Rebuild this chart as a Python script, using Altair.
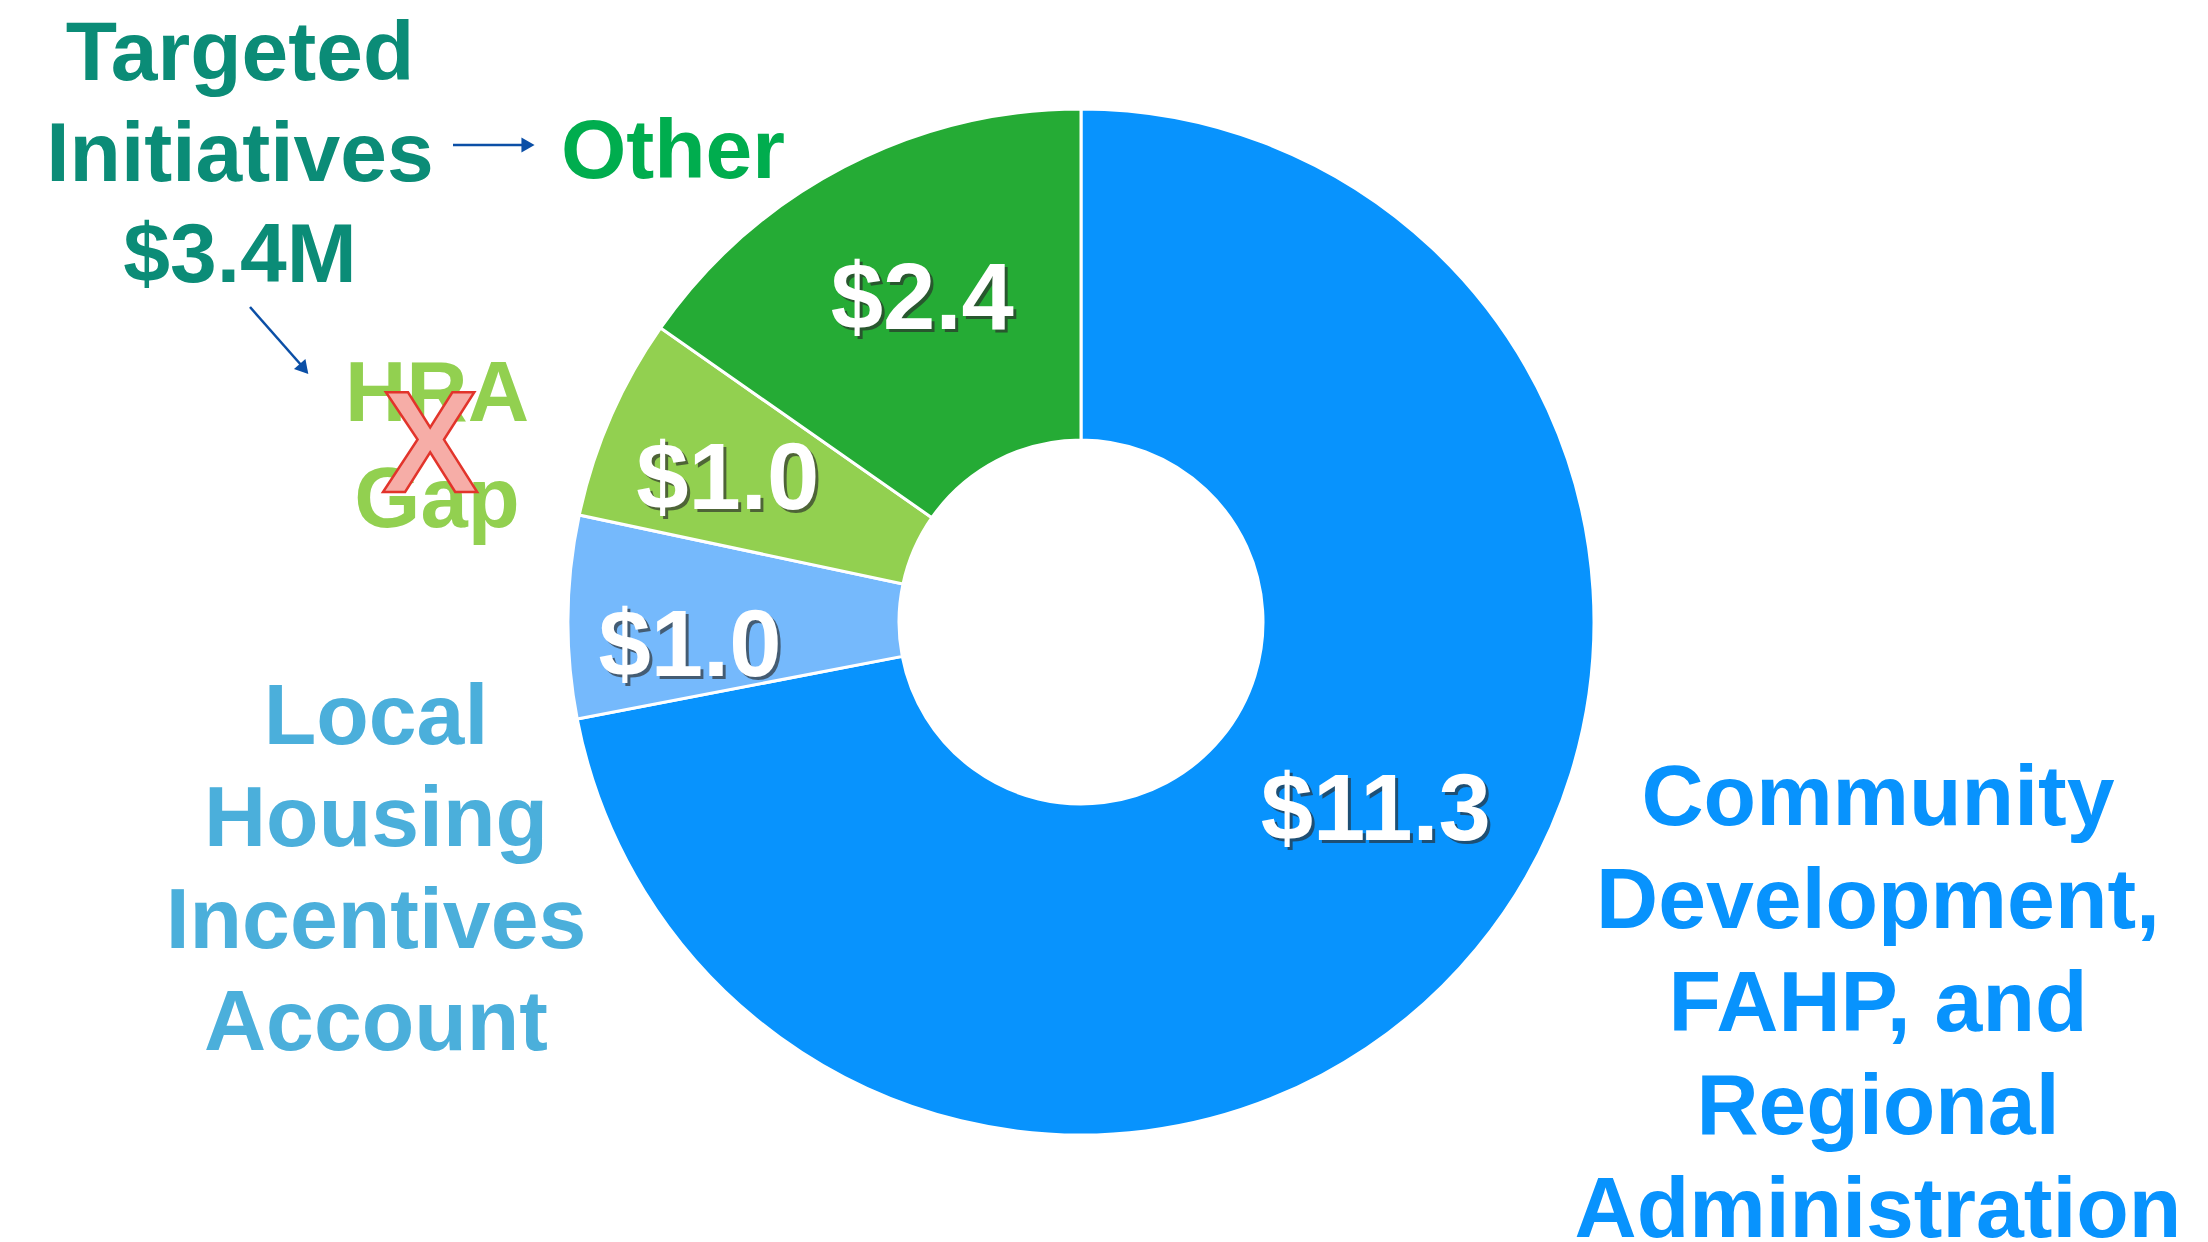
import altair as alt
import pandas as pd

# ---------------- data ----------------
categories = [
    "Community Development, FAHP, and Regional Administration",
    "Local Housing Incentives Account",
    "HRA Gap",
    "Other",
]
values = [11.3, 1.0, 1.0, 2.4]
value_labels = ["$11.3", "$1.0", "$1.0", "$2.4"]

right_label = ["Community", "Development,", "FAHP, and", "Regional", "Administration"]
left_label = ["Local", "Housing", "Incentives", "Account"]
targeted_label = ["Targeted", "Initiatives", "$3.4M"]
other_label = ["Other"]
hra_label = ["HRA", "Gap"]
cross_label = ["X"]

# ---------------- style ----------------
slice_colors = ["#0893FD", "#75B9FC", "#92D050", "#25AB35"]
FONT = "Liberation Sans"
ARROW = "#0B4FA6"
W, H = 2146, 1228

df = pd.DataFrame({
    "category": categories,
    "value": values,
    "label": value_labels,
    "idx": list(range(len(categories))),
})

base = alt.Chart(df)

arcs = base.mark_arc(outerRadius=513, innerRadius=182, stroke="white", strokeWidth=3).encode(
    theta=alt.Theta("value:Q", stack=True),
    color=alt.Color("category:N", scale=alt.Scale(domain=categories, range=slice_colors), legend=None),
    order=alt.Order("idx:Q"),
)

# per-label placement (radius, dx, dy)
label_layout = [(350, 25, -33), (392, 1, 30), (382, -3, 11), (363, 9, 1)]

layers = [arcs]
for i, (r, dx, dy) in enumerate(label_layout):
    for col, ox, oy, op in [("#2b2b2b", 3, 3, 0.65), ("white", 0, 0, 1)]:
        layers.append(
            base.transform_calculate(t=f"datum.idx == {i} ? datum.label : ''")
            .mark_text(radius=r, dx=dx + ox, dy=dy + oy, font=FONT, fontWeight="bold",
                       fontSize=94, color=col, opacity=op, align="center", baseline="middle")
            .encode(
                theta=alt.Theta("value:Q", stack=True),
                order=alt.Order("idx:Q"),
                detail="category:N",
                text="t:N",
            )
        )


def note(lines, x, y, color, size, lh, **kw):
    d = pd.DataFrame({"t": ["\n".join(lines)]})
    return alt.Chart(d).mark_text(
        lineBreak="\n", lineHeight=lh, font=FONT, fontWeight="bold", fontSize=size,
        color=color, align="center", baseline="middle", **kw
    ).encode(x=alt.value(x), y=alt.value(y), text="t:N")


layers += [
    note(right_label, 1870, 791, "#0893FD", 86, 103),
    note(left_label, 368, 710, "#4BAFDB", 86, 102),
    note(targeted_label, 232, 47, "#0B8C77", 84, 101),
    note(other_label, 665, 145, "#00AD4E", 84, 100),
    note(hra_label, 429, 387, "#92D050", 85, 106),
    note(cross_label, 422, 440, "#F6ADA7", 145, 100, stroke="#E2342B", strokeWidth=2.5),
]

one = pd.DataFrame({"a": [0]})
layers += [
    alt.Chart(one).mark_rule(color=ARROW, strokeWidth=2.5).encode(
        x=alt.value(445), x2=alt.value(516), y=alt.value(137), y2=alt.value(137)),
    alt.Chart(one).mark_point(shape="triangle-right", filled=True, size=230, color=ARROW, opacity=1).encode(
        x=alt.value(520), y=alt.value(137)),
    alt.Chart(one).mark_rule(color=ARROW, strokeWidth=2.5).encode(
        x=alt.value(242), x2=alt.value(294), y=alt.value(299), y2=alt.value(358)),
    alt.Chart(one).mark_point(shape="triangle-right", filled=True, size=230, color=ARROW, opacity=1, angle=49).encode(
        x=alt.value(296), y=alt.value(361)),
]

chart = alt.layer(*layers).properties(
    width=W, height=H, padding=0, background="white"
).configure_view(stroke=None)

chart.save("out.html", embed_options={"renderer": "svg", "actions": False})
